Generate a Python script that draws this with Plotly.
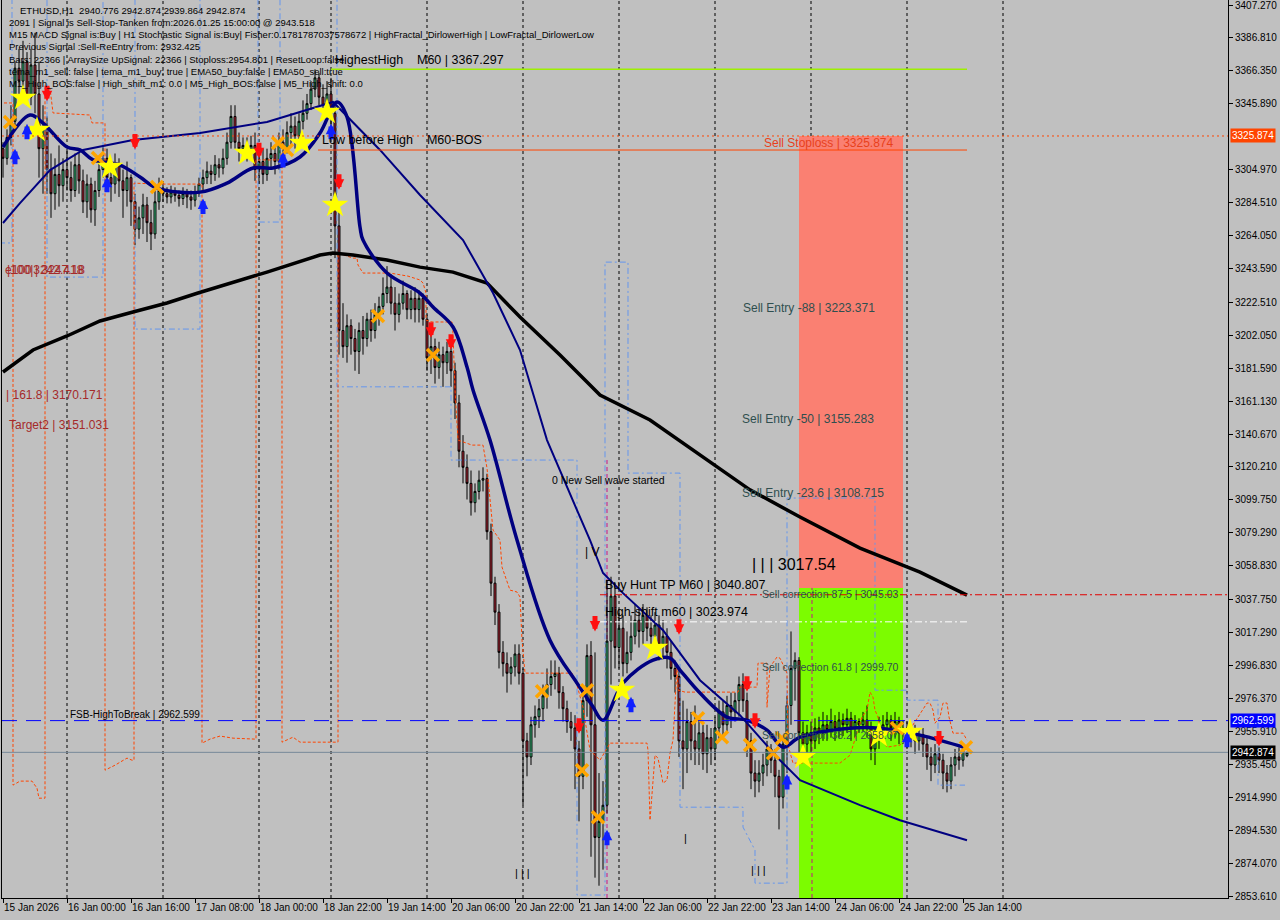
import plotly.graph_objects as go

# ---------------- data (H1 bars, index 0 = 15 Jan 08:00) ----------------
opens = [3318,3312,3325,3335,3368,3360,3372,3350,3370,3352,3318,3330,3305,3290,3302,3295,3305,3300,3292,3308,
         3298,3285,3296,3280,3292,3305,3312,3300,3296,3308,3298,3292,3300,3285,3268,3275,3283,3272,3265,3285,
         3292,3290,3288,3291,3289,3287,3290,3288,3286,3291,3296,3300,3304,3302,3308,3306,3312,3322,3338,3322,
         3318,3320,3316,3320,3305,3310,3302,3312,3315,3310,3322,3318,3328,3332,3326,3335,3340,3346,3355,3362,
         3350,3345,3352,3340,3270,3205,3195,3208,3200,3192,3205,3200,3212,3205,3215,3220,3228,3232,3222,3215,
         3222,3228,3218,3225,3218,3225,3212,3188,3195,3182,3190,3185,3192,3180,3160,3130,3120,3110,3098,3105,
         3112,3113,3080,3048,3030,3005,2998,2992,2996,3004,2992,2950,2940,2960,2965,2970,2978,2985,2990,2992,
         2980,2970,2962,2958,2945,2928,2975,3003,2960,2890,2900,2910,3012,3040,3008,3020,2998,3005,3015,3025,
         3018,3028,3020,3015,3022,3010,3015,3005,2995,2990,2950,2945,2962,2950,2945,2955,2942,2952,2945,2958,
         2968,2960,2972,2968,2975,2985,2975,2950,2930,2925,2930,2935,2945,2938,2928,2915,2948,2972,2995,3000,
         2955,2948,2955,2950,2958,2955,2960,2957,2962,2958,2963,2960,2964,2958,2962,2960,2963,2958,2945,2952,
         2955,2960,2963,2958,2962,2955,2958,2952,2956,2950,2954,2948,2940,2935,2942,2938,2930,2925,2935,2940,
         2938,2940.776]
highs = [3322,3330,3345,3372,3380,3385,3378,3380,3390,3372,3345,3338,3315,3312,3320,3312,3318,3310,3315,3316,
         3305,3302,3300,3298,3312,3320,3318,3310,3315,3312,3305,3310,3302,3290,3282,3290,3288,3280,3292,3300,
         3296,3294,3295,3294,3292,3294,3293,3292,3295,3300,3305,3310,3308,3314,3312,3318,3328,3345,3345,3328,
         3325,3325,3326,3328,3316,3318,3318,3322,3320,3328,3330,3335,3340,3338,3340,3348,3352,3360,3367.3,3365,
         3358,3360,3362,3345,3280,3222,3215,3212,3206,3210,3214,3216,3218,3222,3226,3238,3245,3240,3232,3228,
         3236,3230,3230,3232,3230,3228,3215,3205,3200,3198,3195,3198,3196,3185,3165,3140,3128,3118,3110,3118,
         3120,3116,3085,3052,3035,3012,3005,3002,3010,3010,2995,2955,2965,2972,2976,2985,2995,3000,3000,2996,
         2984,2975,2968,2966,2950,2980,3010,3012,3005,2930,2925,3050,3052,3048,3032,3028,3018,3028,3035,3032,
         3035,3033,3028,3030,3028,3025,3020,3012,3000,2995,2975,2970,2968,2972,2965,2960,2960,2958,2965,2975,
         2975,2978,2980,2980,2990,2992,2980,2955,2938,2938,2942,2950,2948,2945,2932,2952,2978,3018,3005,3002,
         2962,2960,2962,2964,2965,2968,2966,2970,2966,2968,2967,2970,2968,2966,2964,2968,2972,2962,2958,2965,
         2966,2968,2966,2968,2965,2963,2962,2960,2960,2958,2958,2952,2946,2948,2946,2942,2935,2940,2945,2946,
         2948,2942.874]
lows = [3300,3308,3320,3330,3350,3355,3345,3345,3340,3300,3290,3290,3275,3280,3282,3285,3292,3285,3288,3290,
        3278,3275,3272,3270,3288,3300,3295,3285,3290,3288,3275,3282,3270,3258,3262,3265,3260,3255,3262,3280,
        3285,3284,3284,3285,3282,3283,3281,3280,3282,3288,3292,3296,3296,3298,3300,3302,3308,3318,3318,3310,
        3312,3310,3312,3298,3296,3296,3298,3305,3302,3305,3312,3315,3320,3318,3322,3330,3336,3342,3350,3345,
        3338,3340,3330,3250,3190,3188,3185,3190,3180,3178,3190,3195,3198,3200,3208,3215,3222,3215,3205,3210,
        3218,3212,3212,3210,3210,3208,3180,3178,3172,3175,3170,3178,3170,3150,3120,3110,3100,3090,3092,3100,
        3105,3075,3040,3022,2995,2990,2980,2985,2990,2985,2910,2928,2935,2952,2958,2962,2970,2978,2982,2970,
        2962,2955,2950,2920,2900,2920,2965,2878,2865,2860,2870,2905,2985,2995,2995,2990,2992,3000,3010,3008,
        3010,3012,3005,3008,3000,3002,2995,2988,2980,2940,2920,2930,2938,2935,2935,2932,2930,2935,2938,2950,
        2952,2955,2958,2962,2965,2968,2940,2920,2915,2918,2922,2928,2930,2915,2895,2908,2930,2960,2975,2935,
        2938,2940,2942,2945,2948,2950,2950,2952,2950,2952,2953,2955,2950,2952,2955,2956,2952,2938,2935,2945,
        2950,2955,2950,2952,2948,2948,2945,2946,2942,2944,2940,2932,2925,2930,2930,2920,2918,2920,2928,2932,
        2934,2939.864]
closes = [3312,3325,3335,3368,3360,3372,3350,3370,3352,3318,3330,3305,3290,3302,3295,3305,3300,3292,3308,3298,
          3285,3296,3280,3292,3305,3312,3300,3296,3308,3298,3292,3300,3285,3268,3275,3283,3272,3265,3285,3292,
          3290,3288,3291,3289,3287,3290,3288,3286,3291,3296,3300,3304,3302,3308,3306,3312,3322,3338,3322,3318,
          3320,3316,3320,3305,3310,3302,3312,3315,3310,3322,3318,3328,3332,3326,3335,3340,3346,3355,3362,3350,
          3345,3352,3340,3270,3205,3195,3208,3200,3192,3205,3200,3212,3205,3215,3220,3228,3232,3222,3215,3222,
          3228,3218,3225,3218,3225,3212,3188,3195,3182,3190,3185,3192,3180,3160,3130,3120,3110,3098,3105,3112,
          3113,3080,3048,3030,3005,2998,2992,2996,3004,2992,2950,2940,2960,2965,2970,2978,2985,2990,2992,2980,
          2970,2962,2958,2945,2928,2975,3003,2960,2890,2900,2910,3012,3040,3008,3020,2998,3005,3015,3025,3018,
          3028,3020,3015,3022,3010,3015,3005,2995,2990,2950,2945,2962,2950,2945,2955,2942,2952,2945,2958,2968,
          2960,2972,2968,2975,2985,2975,2950,2930,2925,2930,2935,2945,2938,2928,2915,2948,2972,2995,3000,2955,
          2948,2955,2950,2958,2955,2960,2957,2962,2958,2963,2960,2964,2958,2962,2960,2963,2958,2945,2952,2955,
          2960,2963,2958,2962,2955,2958,2952,2956,2950,2954,2948,2940,2935,2942,2938,2930,2925,2935,2940,2938,
          2943.5,2942.874]
bar_index = list(range(len(closes)))

# x-axis labels (every 16 bars)
xtick_index = [0, 16, 32, 48, 64, 80, 96, 112, 128, 144, 160, 176, 192, 208, 224, 240]
xtick_text = ["15 Jan 2026", "16 Jan 00:00", "16 Jan 16:00", "17 Jan 08:00", "18 Jan 00:00", "18 Jan 22:00",
              "19 Jan 14:00", "20 Jan 06:00", "20 Jan 22:00", "21 Jan 14:00", "22 Jan 06:00", "22 Jan 22:00",
              "23 Jan 14:00", "24 Jan 06:00", "24 Jan 22:00", "25 Jan 14:00"]
# price axis labels
ytick_vals = [3407.270, 3386.810, 3366.350, 3345.890, 3304.970, 3284.510, 3264.050, 3243.590, 3222.510,
              3202.050, 3181.590, 3161.130, 3140.670, 3120.210, 3099.750, 3079.290, 3058.830, 3037.750,
              3017.290, 2996.830, 2976.370, 2955.910, 2935.450, 2914.990, 2894.530, 2874.070, 2853.610]
# day separators (bar index of 00:00)
day_sep_index = [16, 40, 64, 82, 106, 130, 154, 178, 202, 226, 250]

# moving averages (bar index, price)
ema_fast_x = [0, 6.75, 10, 16, 19.25, 22.5, 29.25, 34.25, 38.5, 49.25, 56, 62.5, 67.5, 74.25, 79.25, 83.5, 86,
              89.25, 90, 96, 104.25, 107.5, 112.5, 116, 117.5, 121.75, 128.5, 136.75, 143.5, 147.25, 150, 155,
              162.5, 166.75, 169.25, 174.25, 181, 186, 191, 195, 199.25, 211.75, 219.25, 229.25, 241]
ema_fast_y = [3319.0, 3338.9, 3333.9, 3319.0, 3317.2, 3311.0, 3307.8, 3300.4, 3293.5, 3291.0, 3296.6, 3306.0,
              3306.0, 3312.8, 3327.7, 3347.0, 3337.7, 3269.3, 3261.2, 3240.7, 3228.3, 3219.6, 3207.2, 3182.3,
              3168.0, 3136.9, 3074.8, 3012.6, 2985.9, 2972.2, 2962.9, 2985.9, 3000.2, 3001.4, 2994.0, 2979.7,
              2964.8, 2962.9, 2956.7, 2946.1, 2952.3, 2957.9, 2957.9, 2953.6, 2945.5]
ema_slow_x = [0, 4.25, 11.75, 20, 32.5, 49.25, 66, 82.5, 94.25, 104.25, 115, 122.5, 129.25, 136, 143.5, 146.75,
              150, 155, 165, 174.25, 184.25, 194.25, 199.25, 214.25, 224.25, 241]
ema_slow_y = [3271.8, 3284.2, 3304.7, 3317.2, 3323.4, 3327.7, 3334.6, 3347.0, 3317.2, 3289.2, 3261.2, 3228.3,
              3192.9, 3136.9, 3093.4, 3074.8, 3054.3, 3041.8, 3018.8, 2987.7, 2966.0, 2938.0, 2925.6, 2910.1,
              2900.7, 2888.3]
sma200_x = [0, 7.5, 16, 24.25, 32.5, 41, 48.75, 66, 79.25, 82.5, 87.5, 96, 104.25, 112.5, 121, 129.25, 139.25,
            149.25, 161.75, 174.25, 186.75, 199.25, 214.25, 229.25, 241]
sma200_y = [3179.2, 3192.9, 3201.6, 3210.9, 3216.5, 3222.1, 3228.3, 3241.3, 3251.9, 3253.1, 3251.9, 3248.8,
            3244.4, 3241.3, 3234.5, 3213.4, 3189.8, 3164.9, 3149.4, 3127.6, 3106.0, 3089.1, 3069.8, 3054.9, 3040.6]

# trailing step lines
orange_x = [-1, 2.5, 2.5, 4.25, 7.25, 8.5, 9, 10, 10.5, 10.5, 11.75, 12.5, 21.75, 22.25, 25.5, 25.5, 28, 31,
            32.25, 32.75, 32.75, 38.5, 49.25, 49.75, 49.75, 51.75, 54.25, 57.5, 63, 63.25, 63.25, 69.5, 69.75,
            69.75, 72.5, 74.25, 83.5, 83.75, 83.75, 87.5, 88.5, 88.75, 90, 96.75, 101.25, 104.25, 105, 105.75,
            105.75, 107.25, 112.25, 112.5, 113, 113.75, 117.25, 120, 121, 122.5, 124.25, 124.75, 126.75, 128.5,
            129.25, 129.75, 130.5, 142.25, 143.5, 145, 145.5, 146.75, 149.25, 151.75, 161, 161.25, 161.75, 163,
            163.75, 165, 166, 166.75, 167.5, 168.5, 168.75, 170.5, 183.75, 184.25, 188.5, 188.75, 191, 191,
            191.75, 193.5, 194.25, 196, 196.25, 197.5, 209.25, 211.75, 214.75, 216, 216.75, 217.5, 218, 218.75,
            219.25, 221, 224.25, 231, 231.75, 232.5, 233, 234.25, 235, 236, 236.5, 237.5, 240, 241]
orange_y = [3346.4, 3346.4, 2922.5, 2925.0, 2925.0, 2920.6, 2914.4, 2914.4, 2914.4, 3355.7, 3355.7, 3340.2,
            3338.9, 3334.0, 3334.0, 2931.8, 2934.9, 2939.3, 2938.0, 2938.0, 3296.6, 3296.0, 3296.0, 3296.0,
            2948.6, 2951.1, 2953.0, 2951.7, 2951.1, 2951.1, 3311.0, 3311.0, 3311.0, 2949.2, 2952.3, 2949.2,
            2949.2, 2949.2, 3253.1, 3250.0, 3250.0, 3245.7, 3240.7, 3240.7, 3238.8, 3236.4, 3234.5, 3228.3,
            3211.5, 3210.3, 3210.3, 3203.4, 3168.0, 3136.9, 3133.8, 3133.8, 3119.5, 3081.0, 3074.8, 3058.0,
            3043.7, 3042.5, 3039.4, 3012.6, 2992.1, 2992.1, 2984.6, 2970.9, 2962.9, 2944.2, 2938.0, 2948.6,
            2948.6, 2944.2, 2900.7, 2941.1, 2939.3, 2923.7, 2925.6, 2942.4, 2950.5, 2995.9, 2981.5, 2980.3,
            2980.3, 2983.4, 2983.4, 2998.3, 2998.3, 2970.9, 2995.9, 3002.1, 3001.4, 2992.1, 2947.4, 2936.2,
            2936.2, 2941.1, 2964.8, 2969.1, 2980.3, 2977.2, 2969.1, 2964.8, 2954.8, 2946.1, 2947.4, 2973.5,
            2973.5, 2969.1, 2961.0, 2964.8, 2973.5, 2973.5, 2964.8, 2954.8, 2954.8, 2950.5]
blue_x = [-1, 2.25, 2.25, 11, 11, 25, 25, 33, 33, 49.25, 49.25, 63.75, 63.75, 69.25, 69.25, 83.5, 83.5, 112,
          112, 143.5, 143.5, 150.5, 150.5, 156.25, 156.25, 169.25, 169.25, 185, 185, 188, 188, 196, 196, 218,
          218, 226, 226, 233.75, 233.75, 240.5]
blue_y = [3259.4, 3259.4, 3420, 3420, 3238.2, 3238.2, 3420, 3420, 3205.9, 3205.9, 3420, 3420, 3272.4, 3272.4,
          3420, 3420, 3170.0, 3170.0, 3124.5, 3124.5, 2854.2, 2854.2, 3247.5, 3247.5, 3116.4, 3116.4, 2908.8,
          2908.8, 2896.4, 2882.1, 2861.6, 2861.6, 3100.9, 3100.9, 2981.5, 2981.5, 2975.3, 2975.3, 2922.5, 2922.5]

# signal markers (bar index, price at arrow tip / marker centre)
sell_arrow_x = [11, 33, 64, 84, 107, 112, 144, 148, 169, 186, 188, 234]
sell_arrow_y = [3347.5, 3317.5, 3312.0, 3292.5, 3200.5, 3193.0, 2954.5, 3018.0, 3016.0, 2980.5, 2957.5, 2946.5]
buy_arrow_x = [3, 6, 26, 50, 70, 82, 151, 157, 196, 226]
buy_arrow_y = [3318.0, 3333.5, 3300.5, 3287.0, 3316.0, 3333.5, 2894.8, 2977.5, 2929.5, 2955.7]
star_x = [5, 8.5, 26.75, 61, 74.75, 81, 83, 154.75, 163, 200, 219, 226.75]
star_y = [3349.5, 3329.6, 3306.6, 3315.2, 3321.5, 3340.8, 3283.0, 2981.5, 3007.6, 2940.0, 2953.6, 2955.5]
cross_x = [1.75, 23.75, 38.5, 68.75, 71, 93.75, 107.5, 134.75, 146, 144.75, 148.75, 173.75, 179.75, 186.75,
           192.5, 194.75, 223.5, 240.75]
cross_y = [3334.6, 3312.2, 3294.2, 3321.5, 3317.2, 3214.0, 3189.8, 2980.9, 2981.5, 2931.8, 2902.6, 2964.1,
           2952.3, 2947.4, 2942.4, 2951.7, 2957.9, 2946.1]

# levels
stoploss = 3325.874
highest_high = 3367.297
low_before_high = 3317.15
buy_hunt_tp = 3040.807
high_shift = 3023.974
sell_corr_875 = 3045.03
fsb_high = 2962.599
last_price = 2942.874
zone_start, zone_end = 199, 225
line_end = 241

Y_MIN, Y_MAX = 2852.37, 3410.38
X_MIN, X_MAX = -0.25, 306.25

# ---------------- figure ----------------
fig = go.Figure()

shapes = []
for d in day_sep_index:
    shapes.append(dict(type="line", xref="x", yref="paper", x0=d, x1=d, y0=0, y1=1,
                       line=dict(color="black", width=1, dash="3px,3px"), layer="below"))
shapes.append(dict(type="rect", xref="x", yref="y", x0=zone_start, x1=zone_end, y0=sell_corr_875, y1=stoploss,
                   fillcolor="#FA8072", line=dict(width=0), layer="below"))
shapes.append(dict(type="rect", xref="x", yref="y", x0=zone_start, x1=zone_end, y0=Y_MIN, y1=sell_corr_875,
                   fillcolor="#7CFC00", line=dict(width=0), layer="below"))
# magenta verticals
shapes.append(dict(type="line", xref="x", yref="y", x0=151, x1=151, y0=Y_MIN, y1=3124.5,
                   line=dict(color="#C71585", width=1, dash="4px,3px"), layer="below"))
shapes.append(dict(type="line", xref="x", yref="y", x0=202.25, x1=202.25, y0=Y_MIN, y1=sell_corr_875,
                   line=dict(color="#C71585", width=1, dash="4px,3px"), layer="below"))
# horizontal levels
shapes.append(dict(type="line", xref="paper", yref="y", x0=0, x1=1, y0=stoploss, y1=stoploss,
                   line=dict(color="#FF4500", width=1, dash="2px,3px")))
shapes.append(dict(type="line", xref="x", yref="y", x0=82, x1=line_end, y0=highest_high, y1=highest_high,
                   line=dict(color="#9EF000", width=1.5)))
shapes.append(dict(type="line", xref="x", yref="y", x0=78.75, x1=line_end, y0=low_before_high, y1=low_before_high,
                   line=dict(color="#FF4500", width=1)))
shapes.append(dict(type="line", xref="x", yref="y", x0=149.25, x1=X_MAX, y0=buy_hunt_tp, y1=buy_hunt_tp,
                   line=dict(color="#E00000", width=1, dash="7px,3px,2px,3px")))
shapes.append(dict(type="line", xref="x", yref="y", x0=149.25, x1=line_end, y0=high_shift, y1=high_shift,
                   line=dict(color="white", width=1, dash="7px,3px,2px,3px")))
shapes.append(dict(type="line", xref="paper", yref="y", x0=0, x1=1, y0=fsb_high, y1=fsb_high,
                   line=dict(color="#0000FF", width=1, dash="15px,9px")))
shapes.append(dict(type="line", xref="paper", yref="y", x0=0, x1=1, y0=last_price, y1=last_price,
                   line=dict(color="#778899", width=1)))

# step lines
fig.add_trace(go.Scatter(x=blue_x, y=blue_y, mode="lines", line=dict(color="#6495ED", width=1, dash="6px,3px,2px,3px"),
                         hoverinfo="skip", showlegend=False))
fig.add_trace(go.Scatter(x=orange_x, y=orange_y, mode="lines", line=dict(color="#FF4500", width=1, dash="3px,2px"),
                         hoverinfo="skip", showlegend=False))

# candles
fig.add_trace(go.Candlestick(x=bar_index, open=opens, high=highs, low=lows, close=closes,
                             increasing=dict(fillcolor="#40D088", line=dict(color="black", width=1)),
                             decreasing=dict(fillcolor="#C02838", line=dict(color="black", width=1)),
                             whiskerwidth=0, showlegend=False, hoverinfo="skip"))

# moving averages
fig.add_trace(go.Scatter(x=sma200_x, y=sma200_y, mode="lines", line=dict(color="black", width=3.5),
                         hoverinfo="skip", showlegend=False))
fig.add_trace(go.Scatter(x=ema_slow_x, y=ema_slow_y, mode="lines", line=dict(color="#000080", width=2),
                         hoverinfo="skip", showlegend=False))
fig.add_trace(go.Scatter(x=ema_fast_x, y=ema_fast_y, mode="lines", line=dict(color="#000080", width=3.5, shape="spline"),
                         hoverinfo="skip", showlegend=False))

# markers
fig.add_trace(go.Scatter(x=cross_x, y=cross_y, mode="markers",
                         marker=dict(symbol="x-thin", size=12, line=dict(color="#FFA500", width=3.5)),
                         hoverinfo="skip", showlegend=False))
fig.add_trace(go.Scatter(x=star_x, y=star_y, mode="markers",
                         marker=dict(symbol="star", size=20, color="#FFFF00", line=dict(width=0)),
                         hoverinfo="skip", showlegend=False))

annotations = []
# signal arrows drawn as thick arrows (tip at the data point)
for ax_, ay_ in zip(sell_arrow_x, sell_arrow_y):
    annotations.append(dict(x=ax_, y=ay_, xref="x", yref="y", text="", showarrow=True, ax=0, ay=-17,
                            arrowhead=2, arrowsize=0.42, arrowwidth=5, arrowcolor="#FF1010"))
for ax_, ay_ in zip(buy_arrow_x, buy_arrow_y):
    annotations.append(dict(x=ax_, y=ay_, xref="x", yref="y", text="", showarrow=True, ax=0, ay=17,
                            arrowhead=2, arrowsize=0.42, arrowwidth=5, arrowcolor="#1020FF"))

def label(x, y, text, size=11, color="black", family="Liberation Sans", xref="x", yref="y"):
    annotations.append(dict(x=x, y=y, xref=xref, yref=yref, text=text, showarrow=False,
                            xanchor="left", yanchor="middle",
                            font=dict(family=family, size=size, color=color)))

# chart labels
label(82.5, 3373.1, "HighestHigh    M60 | 3367.297", 12.5)
label(79.25, 3323.4, "Low before High    M60-BOS", 12.5)
label(189.75, 3321.5, "Sell Stoploss | 3325.874", 12, "#E8401C")
label(184.5, 3219.0, "Sell Entry -88 | 3223.371", 12, "#2F4F4F")
label(184.25, 3150.0, "Sell Entry -50 | 3155.283", 12, "#2F4F4F")
label(184.25, 3104.0, "Sell Entry -23.6 | 3108.715", 12, "#2F4F4F")
label(186.75, 3059.8, "| | | 3017.54", 16)
label(189.25, 3041.2, "Sell correction 87.5 | 3045.03", 10.5, "#2F4F4F")
label(189.25, 2995.9, "Sell correction 61.8 | 2999.70", 10.5, "#2F4F4F")
label(189.25, 2953.6, "Sell correction 38.2 | 2958.07", 10.5, "#2F4F4F")
label(150.0, 3046.8, "Buy Hunt TP M60 | 3040.807", 12.5)
label(150.0, 3030.0, "High-shift m60 | 3023.974", 12.5)
label(136.75, 3112.0, "0 New Sell wave started", 10.5)
label(145.0, 3067.3, "| V", 12)
label(16.25, 2966.6, "FSB-HighToBreak | 2962.599", 10)
label(0.25, 3164.9, "| 161.8 | 3170.171", 12, "#A52A2A")
label(1.0, 3146.2, "Target2 | 3151.031", 12, "#A52A2A")
label(0.0, 3242.6, "e100 | 3247.18", 12, "#A52A2A")
label(0.6, 3242.6, "|100|3242.418", 12, "#A52A2A")
label(127.5, 2867.8, "| | |", 11)
label(186.5, 2869.7, "| | |", 11)
label(169.75, 2889.6, "|", 11)

# info panel (top-left)
info_lines = [
    "ETHUSD,H1  2940.776 2942.874 2939.864 2942.874",
    "2091 | Signal is Sell-Stop-Tanken from:2026.01.25 15:00:00 @ 2943.518",
    "M15 MACD Signal is:Buy | H1 Stochastic Signal is:Buy| Fisher:0.1781787037578672 | HighFractal_DirlowerHigh | LowFractal_DirlowerLow",
    "Previous Signal :Sell-ReEntry from: 2932.425",
    "Bars: 22366 | ArraySize UpSignal: 22366 | Stoploss:2954.801 | ResetLoop:false",
    "tema_m1_sell: false | tema_m1_buy: true | EMA50_buy:false | EMA50_sell:true",
    "M1_High_BOS:false | High_shift_m1: 0.0 | M5_High_BOS:false | M5_High_shift: 0.0",
]
for k, t in enumerate(info_lines):
    annotations.append(dict(x=(16 if k == 0 else 5) / 1226, y=1 - (10 + 12.3 * k) / 898, xref="paper", yref="paper",
                            text=t, showarrow=False, xanchor="left", yanchor="middle",
                            font=dict(family="Liberation Sans", size=9.5, color="black")))

# price boxes on axis
for val, bg in [(stoploss, "#FF4500"), (fsb_high, "#0000FF"), (last_price, "#000000")]:
    annotations.append(dict(x=1, y=val, xref="paper", yref="y", text=f"{val:.3f}", showarrow=False,
                            xanchor="left", yanchor="middle", xshift=2, bgcolor=bg, borderpad=1,
                            font=dict(family="Liberation Sans", size=10, color="white")))

fig.update_layout(
    width=1280, height=920, autosize=False,
    margin=dict(l=2, r=52, t=0, b=22),
    paper_bgcolor="#C0C0C0", plot_bgcolor="#C0C0C0",
    shapes=shapes, annotations=annotations, showlegend=False,
    xaxis=dict(range=[X_MIN, X_MAX], showgrid=False, zeroline=False, rangeslider=dict(visible=False),
               tickmode="array", tickvals=xtick_index, ticktext=xtick_text, ticks="outside", ticklen=4,
               tickcolor="black", showline=True, linecolor="black", linewidth=1,
               ticklabelposition="outside right", tickangle=0, automargin=False,
               tickfont=dict(family="Liberation Sans", size=10, color="black")),
    yaxis=dict(range=[Y_MIN, Y_MAX], side="right", showgrid=False, zeroline=False,
               tickmode="array", tickvals=ytick_vals, ticktext=[f"{v:.3f}" for v in ytick_vals],
               ticks="outside", ticklen=4, tickcolor="black", showline=True, linecolor="black",
               linewidth=1, mirror=True, automargin=False, ticklabeloverflow="allow",
               tickfont=dict(family="Liberation Sans", size=10, color="black")),
)

fig.write_html("out.html", config={"displayModeBar": False},
               post_script="document.body.style.margin='0';document.body.style.padding='0';"
                           "document.body.style.background='#C0C0C0';")
